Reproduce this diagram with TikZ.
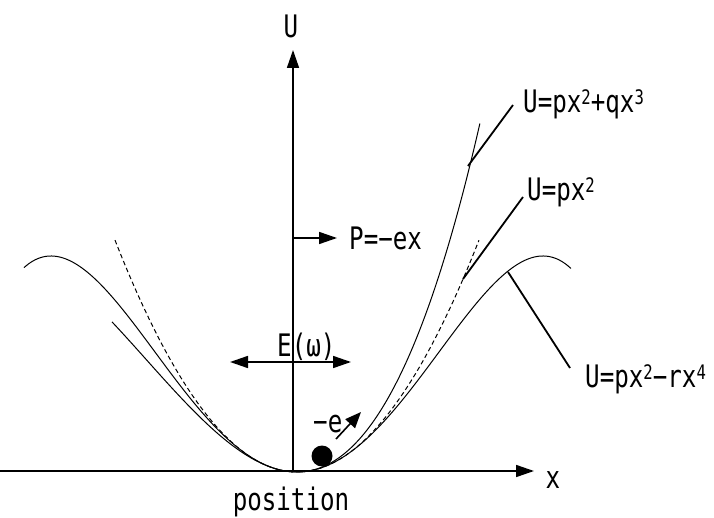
\documentclass[tikz,border=0pt]{standalone}
\usepackage{fontspec}
\usetikzlibrary{arrows.meta}
\newfontfamily\lblfont[FakeStretch=0.78]{DejaVu Sans Mono}
\newcommand\spr[1]{\raisebox{8pt}{\fontsize{20}{20}\selectfont #1}}
\begin{document}
\begin{tikzpicture}[x=1pt,y=-1pt,
  lbl/.style={font=\lblfont\fontsize{31}{34}\selectfont, inner sep=0pt},
  axisline/.style={line width=1.6pt},
  curveline/.style={line width=1pt},
  guideline/.style={line width=1pt, dash pattern=on 4.5pt off 3pt},
  pointer/.style={line width=1.8pt},
  bigtip/.style={-{Triangle[length=18pt,width=12pt]}},
  bothtips/.style={{Triangle[length=18pt,width=12pt]}-{Triangle[length=18pt,width=12pt]}},
  smalltip/.style={-{Triangle[length=16pt,width=13pt]}}]
\useasboundingbox (0,0) rectangle (714,518);
% axes
\coordinate (O) at (293,471);
\coordinate (xl) at (0,471);
\coordinate (xr) at (534,471);
\coordinate (ut) at (293,50);
\draw[axisline,bigtip] (xl) -- (xr);
\draw[axisline,bigtip] (O) -- (ut);
\node[lbl, anchor=base] (Ulab) at (291,38) {U};
\node[lbl, anchor=base] (xlab) at (553,488) {x};
\node[lbl, anchor=base] (poslab) at (291,510) {position};
% curves
\draw[guideline] plot[domain=-1.82:1.82, samples=90, smooth] ({297+100*\x},{472-70*\x*\x});
\draw[curveline] plot[domain=-1.85:1.83, samples=90, smooth] ({297+100*\x},{472-74.2*\x*\x-16.4*\x*\x*\x});
\draw[curveline] plot[domain=-2.73:2.74, samples=120, smooth] ({297+100*\x},{472-71.4*\x*\x+5.9*\x*\x*\x*\x});
% P arrow
\coordinate (pa) at (293,238);
\coordinate (pb) at (337,238);
\draw[axisline,bigtip] (pa) -- (pb);
\node[lbl, anchor=base west] (Plab) at (349,250) {P=−ex};
% E arrow
\coordinate (ea) at (230,362);
\coordinate (eb) at (351,362);
\draw[axisline,bothtips] (ea) -- (eb);
\node[lbl, anchor=base west] (Elab) at (277,356) {E(ω)};
% electron
\node[circle, fill, minimum size=21pt, inner sep=0pt] (ball) at (322,456) {};
\coordinate (ma) at (336,439);
\coordinate (mb) at (361,412);
\draw[axisline,smalltip] (ma) -- (mb);
\node[lbl, anchor=base west] (elab) at (313,432) {−e};
% labels with pointers
\node[lbl, anchor=base west] (L3) at (523,113) {U=px\spr{2}+qx\spr{3}};
\node[lbl, anchor=base west] (L2) at (527,201) {U=px\spr{2}};
\node[lbl, anchor=base west] (L4) at (585,387) {U=px\spr{2}−rx\spr{4}};
\coordinate (c3a) at (468,166);
\coordinate (c3b) at (513,105);
\coordinate (c2a) at (463,279);
\coordinate (c2b) at (523,197);
\coordinate (c4a) at (508,272);
\coordinate (c4b) at (570,368);
\draw[pointer] (c3a) -- (c3b);
\draw[pointer] (c2a) -- (c2b);
\draw[pointer] (c4a) -- (c4b);
\end{tikzpicture}
\end{document}
